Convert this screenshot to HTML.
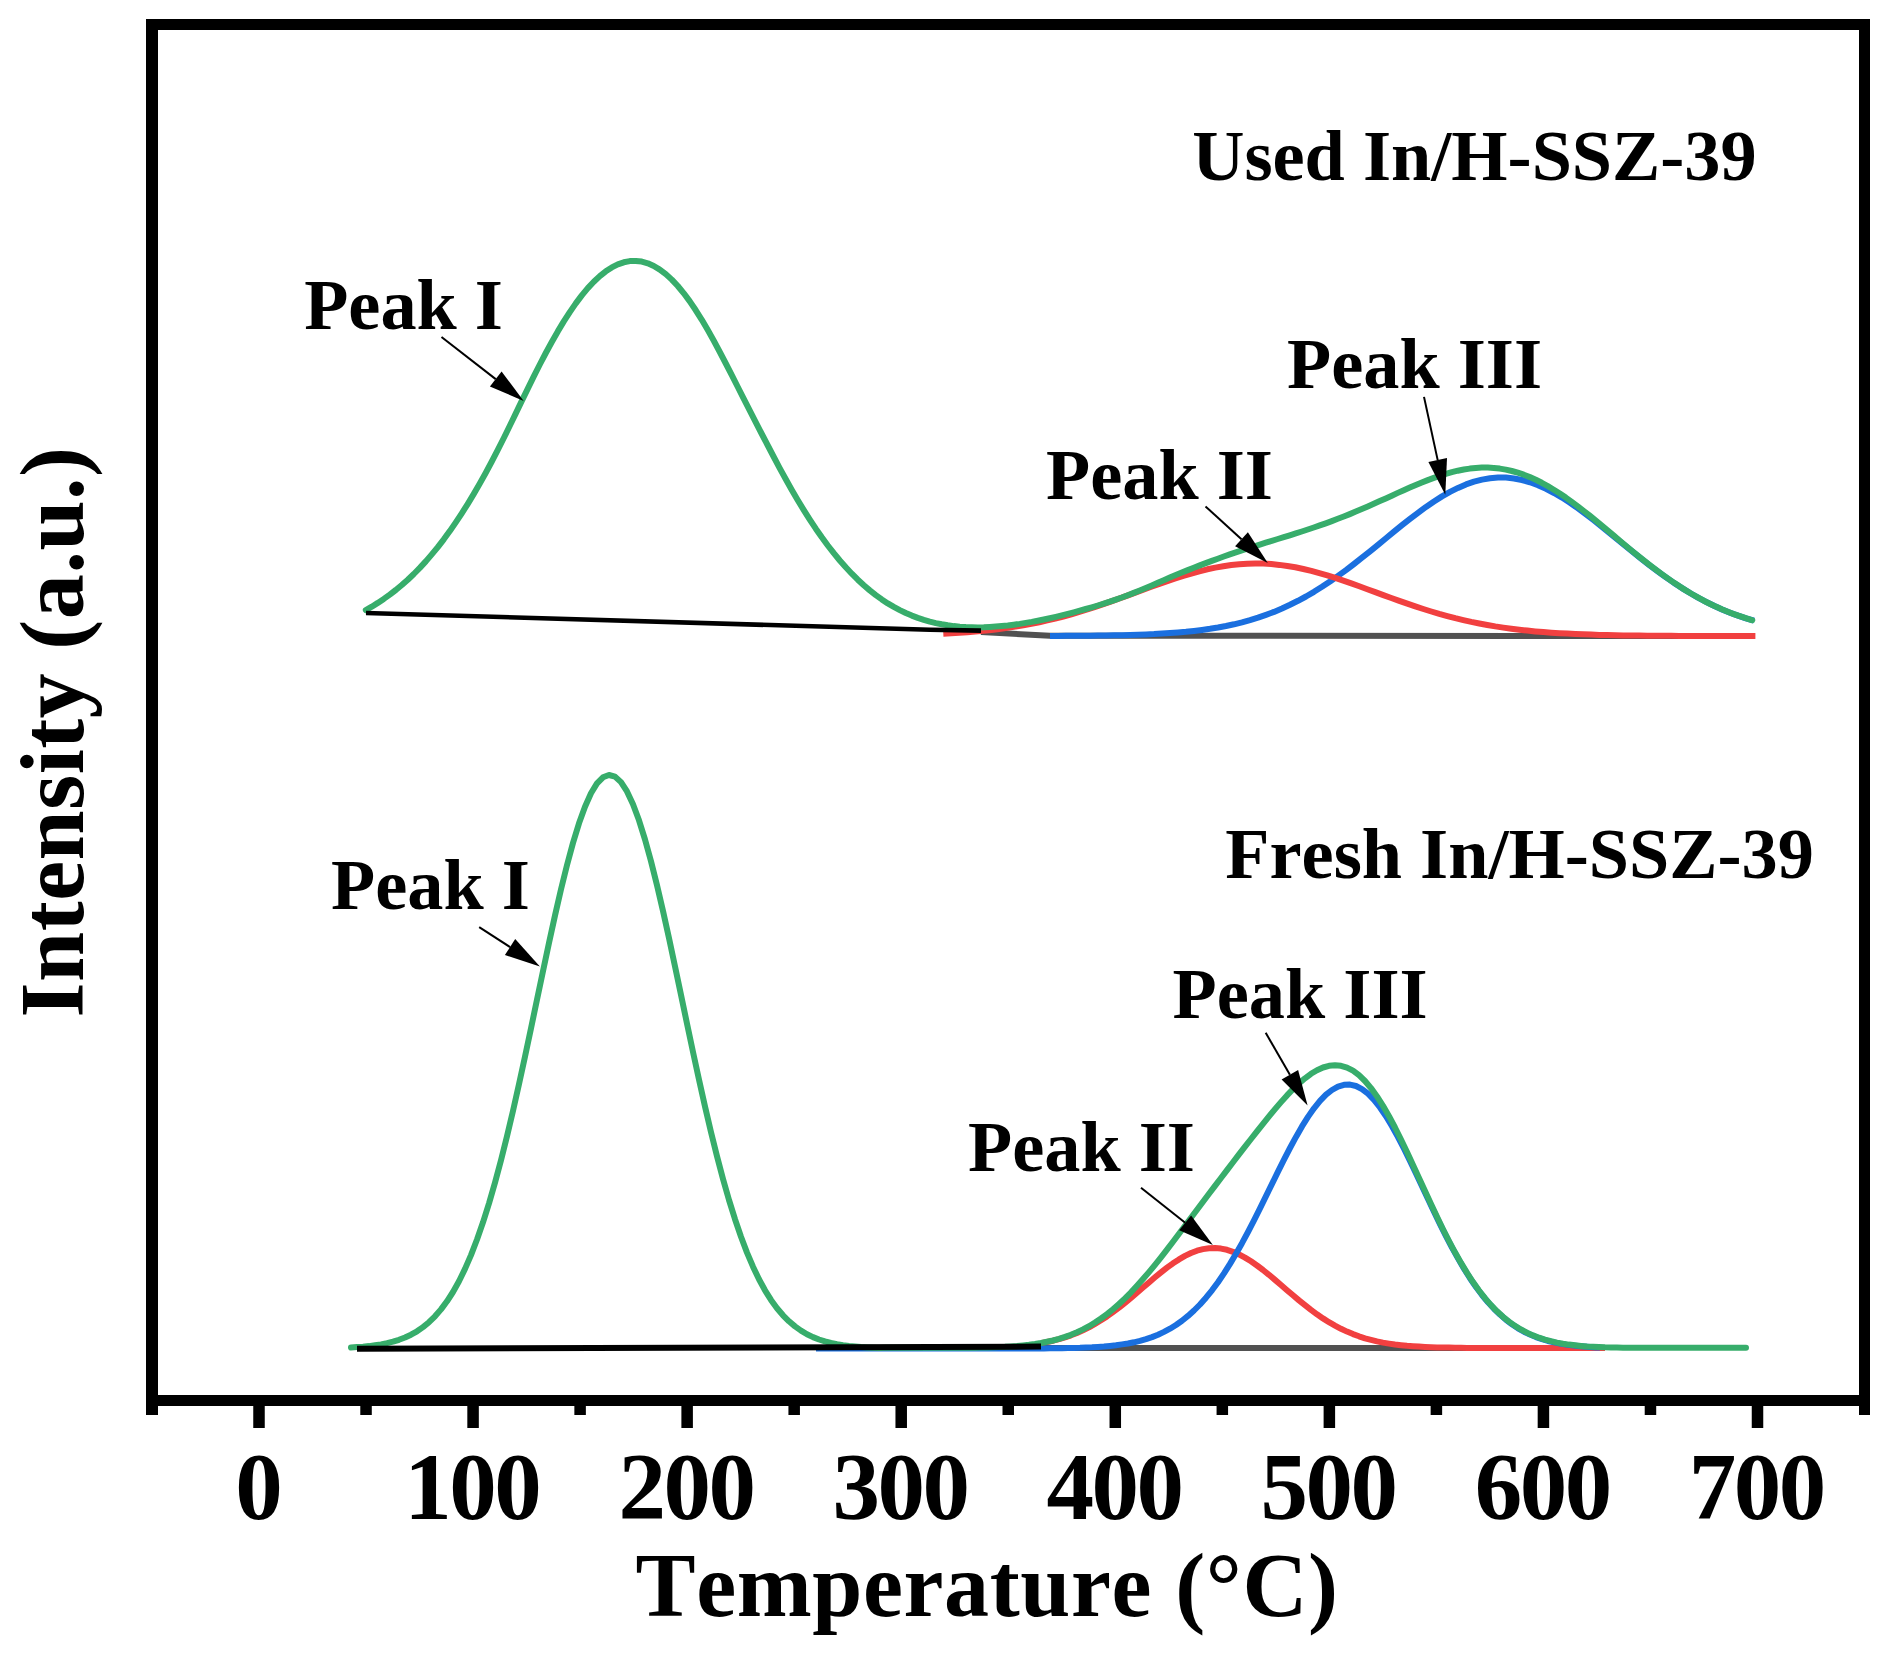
<!DOCTYPE html>
<html><head><meta charset="utf-8"><title>NH3-TPD</title>
<style>html,body{margin:0;padding:0;background:#fff}svg{display:block}text{font-kerning:none;font-variant-ligatures:none;font-family:"Liberation Serif",serif;font-weight:bold;fill:#000}</style>
</head><body>
<svg width="1889" height="1661" viewBox="0 0 1889 1661">
<rect width="1889" height="1661" fill="#fff"/>
<g fill="none" stroke-linejoin="round" stroke-width="6">
<path d="M981,632 L1050,635.8 L1755,636" stroke="#515151"/>
<path d="M1050.0,635.9L1058.0,635.9L1066.0,635.8L1074.0,635.8L1082.0,635.7L1090.0,635.7L1098.0,635.6L1106.0,635.5L1114.0,635.3L1122.0,635.2L1130.0,635.0L1138.0,634.7L1146.0,634.4L1154.0,634.1L1162.0,633.6L1170.0,633.1L1178.0,632.5L1186.0,631.8L1194.0,630.9L1202.0,629.9L1210.0,628.8L1218.0,627.5L1226.0,626.0L1234.0,624.3L1242.0,622.3L1250.0,620.1L1258.0,617.7L1266.0,614.9L1274.0,611.9L1282.0,608.5L1290.0,604.8L1298.0,600.8L1306.0,596.5L1314.0,591.8L1322.0,586.8L1330.0,581.5L1338.0,575.9L1346.0,570.1L1354.0,564.0L1362.0,557.7L1370.0,551.3L1378.0,544.8L1386.0,538.2L1394.0,531.7L1402.0,525.2L1410.0,518.9L1418.0,512.8L1426.0,506.9L1434.0,501.5L1442.0,496.4L1450.0,491.9L1458.0,487.9L1466.0,484.4L1474.0,481.7L1482.0,479.6L1490.0,478.2L1498.0,477.6L1506.0,477.6L1514.0,478.5L1522.0,480.0L1530.0,482.3L1538.0,485.2L1546.0,488.8L1554.0,493.0L1562.0,497.6L1570.0,502.8L1578.0,508.4L1586.0,514.3L1594.0,520.4L1602.0,526.8L1610.0,533.3L1618.0,539.9L1626.0,546.4L1634.0,552.9L1642.0,559.3L1650.0,565.6L1658.0,571.6L1666.0,577.4L1674.0,582.9L1682.0,588.1L1690.0,593.0L1698.0,597.6L1706.0,601.8L1714.0,605.8L1722.0,609.4L1730.0,612.7L1738.0,615.6L1746.0,618.3L1754.0,620.7" stroke="#1A6FDF"/>
<path d="M943.3,633.7L951.3,633.3L959.3,632.8L967.3,632.2L975.3,631.5L983.3,630.8L991.3,629.9L999.3,628.9L1007.3,627.8L1015.3,626.6L1023.3,625.3L1031.3,623.8L1039.3,622.2L1047.3,620.4L1055.3,618.5L1063.3,616.5L1071.3,614.3L1079.3,611.9L1087.3,609.5L1095.3,606.9L1103.3,604.2L1111.3,601.4L1119.3,598.5L1127.3,595.6L1135.3,592.7L1143.3,589.7L1151.3,586.8L1159.3,583.9L1167.3,581.1L1175.3,578.4L1183.3,575.8L1191.3,573.5L1199.3,571.3L1207.3,569.3L1215.3,567.6L1223.3,566.2L1231.3,565.0L1239.3,564.2L1247.3,563.7L1255.3,563.5L1263.3,563.6L1271.3,564.1L1279.3,564.9L1287.3,566.0L1295.3,567.3L1303.3,569.0L1311.3,570.9L1319.3,573.1L1327.3,575.4L1335.3,577.9L1343.3,580.6L1351.3,583.4L1359.3,586.3L1367.3,589.2L1375.3,592.1L1383.3,595.1L1391.3,598.0L1399.3,600.9L1407.3,603.7L1415.3,606.4L1423.3,609.0L1431.3,611.5L1439.3,613.9L1447.3,616.1L1455.3,618.2L1463.3,620.1L1471.3,621.9L1479.3,623.5L1487.3,625.0L1495.3,626.4L1503.3,627.6L1511.3,628.7L1519.3,629.7L1527.3,630.6L1535.3,631.4L1543.3,632.1L1551.3,632.7L1559.3,633.2L1567.3,633.6L1575.3,634.0L1583.3,634.3L1591.3,634.6L1599.3,634.9L1607.3,635.1L1615.3,635.2L1623.3,635.4L1631.3,635.5L1639.3,635.6L1647.3,635.7L1655.3,635.7L1663.3,635.8L1671.3,635.8L1679.3,635.9L1687.3,635.9L1695.3,635.9L1703.3,635.9L1711.3,636.0L1719.3,636.0L1727.3,636.0L1735.3,636.0L1743.3,636.0L1751.3,636.0L1755.4,636.0" stroke="#F14040"/>
<path d="M365.8,610.1L371.8,606.7L377.8,602.9L383.8,598.9L389.8,594.6L395.8,590.0L401.8,585.0L407.8,579.7L413.8,574.0L419.8,567.9L425.8,561.4L431.8,554.4L437.8,547.1L443.8,539.3L449.8,531.1L455.8,522.4L461.8,513.3L467.8,503.8L473.8,493.9L479.8,483.5L485.8,472.7L491.8,461.5L497.8,449.9L503.8,438.0L509.8,425.8L515.8,413.4L521.8,400.9L527.8,388.6L533.8,376.4L539.8,364.5L545.8,353.0L551.8,342.0L557.8,331.4L563.8,321.4L569.8,312.1L575.8,303.4L581.8,295.4L587.8,288.1L593.8,281.7L599.8,276.1L605.8,271.3L611.8,267.4L617.8,264.4L623.8,262.3L629.8,261.1L635.8,260.9L641.8,261.6L647.8,263.3L653.8,266.0L659.8,269.6L665.8,274.1L671.8,279.6L677.8,286.0L683.8,293.3L689.8,301.4L695.8,310.3L701.8,319.8L707.8,330.1L713.8,340.8L719.8,352.0L725.8,363.5L731.8,375.2L737.8,387.0L743.8,398.8L749.8,410.6L755.8,422.4L761.8,434.0L767.8,445.5L773.8,457.0L779.8,468.3L785.8,479.3L791.8,490.0L797.8,500.3L803.8,510.1L809.8,519.6L815.8,528.7L821.8,537.3L827.8,545.5L833.8,553.2L839.8,560.5L845.8,567.3L851.8,573.7L857.8,579.7L863.8,585.3L869.8,590.4L875.8,595.1L881.8,599.4L887.8,603.4L893.8,606.9L899.8,610.1L905.8,613.0L911.8,615.6L917.8,617.9L923.8,619.9L929.8,621.6L935.8,623.1L941.8,624.3L947.8,625.3L953.8,626.1L959.8,626.7L965.8,627.1L971.8,627.3L977.8,627.4L983.8,627.3L989.8,627.0L995.8,626.6L1001.8,626.1L1007.8,625.5L1013.8,624.7L1019.8,623.9L1025.8,622.9L1031.8,621.9L1037.8,620.7L1043.8,619.5L1049.8,618.2L1055.8,616.8L1061.8,615.4L1067.8,613.9L1073.8,612.3L1079.8,610.7L1085.8,609.0L1091.8,607.3L1097.8,605.5L1103.8,603.6L1109.8,601.7L1115.8,599.6L1121.8,597.5L1127.8,595.2L1133.8,592.9L1139.8,590.5L1145.8,588.0L1151.8,585.4L1157.8,582.8L1163.8,580.2L1169.8,577.6L1175.8,575.0L1181.8,572.5L1187.8,570.1L1193.8,567.7L1199.8,565.4L1205.8,563.1L1211.8,560.9L1217.8,558.7L1223.8,556.5L1229.8,554.4L1235.8,552.4L1241.8,550.4L1247.8,548.4L1253.8,546.5L1259.8,544.6L1265.8,542.7L1271.8,540.9L1277.8,539.0L1283.8,537.2L1289.8,535.3L1295.8,533.4L1301.8,531.5L1307.8,529.5L1313.8,527.5L1319.8,525.4L1325.8,523.3L1331.8,521.1L1337.8,518.8L1343.8,516.5L1349.8,514.1L1355.8,511.6L1361.8,509.1L1367.8,506.5L1373.8,503.8L1379.8,501.1L1385.8,498.4L1391.8,495.7L1397.8,492.9L1403.8,490.2L1409.8,487.6L1415.8,485.0L1421.8,482.5L1427.8,480.1L1433.8,477.9L1439.8,475.8L1445.8,473.9L1451.8,472.2L1457.8,470.7L1463.8,469.5L1469.8,468.6L1475.8,468.0L1481.8,467.6L1487.8,467.6L1493.8,468.0L1499.8,468.6L1505.8,469.6L1511.8,471.0L1517.8,472.7L1523.8,474.7L1529.8,477.1L1535.8,479.8L1541.8,482.8L1547.8,486.1L1553.8,489.7L1559.8,493.5L1565.8,497.6L1571.8,501.9L1577.8,506.3L1583.8,511.0L1589.8,515.7L1595.8,520.6L1601.8,525.6L1607.8,530.6L1613.8,535.6L1619.8,540.7L1625.8,545.7L1631.8,550.7L1637.8,555.6L1643.8,560.4L1649.8,565.1L1655.8,569.7L1661.8,574.1L1667.8,578.4L1673.8,582.6L1679.8,586.6L1685.8,590.4L1691.8,594.0L1697.8,597.4L1703.8,600.7L1709.8,603.7L1715.8,606.6L1721.8,609.3L1727.8,611.8L1733.8,614.1L1739.8,616.2L1745.8,618.2L1751.8,620.1L1752.3,620.2" stroke="#37AD6B" stroke-linecap="round"/>
<path d="M366,613 L930,629.8 L981,630.6" stroke="#000" stroke-width="4.6"/>
<path d="M1041,1348 L1598,1348" stroke="#515151"/>
<path d="M1041.0,1343.1L1047.0,1342.0L1053.0,1340.7L1059.0,1339.1L1065.0,1337.3L1071.0,1335.3L1077.0,1332.9L1083.0,1330.2L1089.0,1327.3L1095.0,1323.9L1101.0,1320.3L1107.0,1316.4L1113.0,1312.1L1119.0,1307.6L1125.0,1302.8L1131.0,1297.9L1137.0,1292.8L1143.0,1287.6L1149.0,1282.4L1155.0,1277.3L1161.0,1272.4L1167.0,1267.7L1173.0,1263.3L1179.0,1259.4L1185.0,1255.9L1191.0,1253.0L1197.0,1250.7L1203.0,1249.1L1209.0,1248.2L1215.0,1248.0L1221.0,1248.6L1227.0,1249.8L1233.0,1251.8L1239.0,1254.4L1245.0,1257.6L1251.0,1261.3L1257.0,1265.5L1263.0,1270.0L1269.0,1274.8L1275.0,1279.9L1281.0,1285.0L1287.0,1290.2L1293.0,1295.3L1299.0,1300.4L1305.0,1305.2L1311.0,1309.9L1317.0,1314.3L1323.0,1318.4L1329.0,1322.2L1335.0,1325.6L1341.0,1328.8L1347.0,1331.6L1353.0,1334.1L1359.0,1336.3L1365.0,1338.3L1371.0,1339.9L1377.0,1341.4L1383.0,1342.6L1389.0,1343.6L1395.0,1344.5L1401.0,1345.2L1407.0,1345.8L1413.0,1346.2L1419.0,1346.6L1425.0,1346.9L1431.0,1347.2L1437.0,1347.4L1443.0,1347.5L1449.0,1347.6L1455.0,1347.7L1461.0,1347.8L1467.0,1347.9L1473.0,1347.9L1479.0,1347.9L1485.0,1347.9L1491.0,1348.0L1497.0,1348.0L1503.0,1348.0L1509.0,1348.0L1515.0,1348.0L1521.0,1348.0L1527.0,1348.0L1533.0,1348.0L1539.0,1348.0L1545.0,1348.0L1551.0,1348.0L1557.0,1348.0L1563.0,1348.0L1569.0,1348.0L1575.0,1348.0L1581.0,1348.0L1587.0,1348.0L1593.0,1348.0L1599.0,1348.0L1605.0,1348.0" stroke="#F14040"/>
<path d="M816.0,1348.5L822.0,1348.5L828.0,1348.5L834.0,1348.5L840.0,1348.5L846.0,1348.5L852.0,1348.5L858.0,1348.5L864.0,1348.5L870.0,1348.5L876.0,1348.5L882.0,1348.5L888.0,1348.5L894.0,1348.5L900.0,1348.5L906.0,1348.5L912.0,1348.5L918.0,1348.5L924.0,1348.5L930.0,1348.5L936.0,1348.5L942.0,1348.5L948.0,1348.5L954.0,1348.5L960.0,1348.5L966.0,1348.5L972.0,1348.5L978.0,1348.5L984.0,1348.5L990.0,1348.5L996.0,1348.5L1002.0,1348.5L1008.0,1348.5L1014.0,1348.5L1020.0,1348.5L1026.0,1348.4L1032.0,1348.4L1038.0,1348.4L1044.0,1348.4L1050.0,1348.3L1056.0,1348.3L1062.0,1348.2L1068.0,1348.1L1074.0,1347.9L1080.0,1347.8L1086.0,1347.5L1092.0,1347.3L1098.0,1346.9L1104.0,1346.5L1110.0,1345.9L1116.0,1345.3L1122.0,1344.4L1128.0,1343.5L1134.0,1342.3L1140.0,1340.8L1146.0,1339.1L1152.0,1337.1L1158.0,1334.7L1164.0,1331.9L1170.0,1328.7L1176.0,1325.0L1182.0,1320.8L1188.0,1315.9L1194.0,1310.5L1200.0,1304.5L1206.0,1297.7L1212.0,1290.3L1218.0,1282.2L1224.0,1273.4L1230.0,1263.9L1236.0,1253.8L1242.0,1243.2L1248.0,1232.0L1254.0,1220.3L1260.0,1208.3L1266.0,1196.2L1272.0,1183.9L1278.0,1171.6L1284.0,1159.6L1290.0,1148.0L1296.0,1136.9L1302.0,1126.4L1308.0,1116.9L1314.0,1108.3L1320.0,1100.9L1326.0,1094.7L1332.0,1090.0L1338.0,1086.6L1344.0,1084.8L1350.0,1084.6L1356.0,1086.0L1362.0,1089.1L1368.0,1093.7L1374.0,1099.9L1380.0,1107.5L1386.0,1116.3L1392.0,1126.2L1398.0,1137.1L1404.0,1148.7L1410.0,1160.9L1416.0,1173.5L1422.0,1186.2L1428.0,1199.0L1434.0,1211.7L1440.0,1224.1L1446.0,1236.1L1452.0,1247.6L1458.0,1258.4L1464.0,1268.7L1470.0,1278.2L1476.0,1287.0L1482.0,1295.0L1488.0,1302.3L1494.0,1308.8L1500.0,1314.6L1506.0,1319.8L1512.0,1324.3L1518.0,1328.3L1524.0,1331.7L1530.0,1334.6L1536.0,1337.1L1542.0,1339.2L1548.0,1341.0L1554.0,1342.4L1560.0,1343.6L1566.0,1344.6L1572.0,1345.4L1578.0,1346.1L1584.0,1346.6L1590.0,1347.1L1596.0,1347.4L1600.0,1347.6" stroke="#1A6FDF"/>
<path d="M351.0,1347.5L357.0,1347.1L363.0,1346.7L369.0,1346.1L375.0,1345.3L381.0,1344.4L387.0,1343.2L393.0,1341.7L399.0,1339.8L405.0,1337.5L411.0,1334.7L417.0,1331.3L423.0,1327.1L429.0,1322.2L435.0,1316.3L441.0,1309.4L447.0,1301.3L453.0,1292.0L459.0,1281.2L465.0,1268.9L471.0,1255.1L477.0,1239.5L483.0,1222.3L489.0,1203.3L495.0,1182.6L501.0,1160.2L507.0,1136.2L513.0,1110.9L519.0,1084.2L525.0,1056.6L531.0,1028.3L537.0,999.7L543.0,971.1L549.0,942.9L555.0,915.5L561.0,889.4L567.0,865.1L573.0,842.9L579.0,823.3L585.0,806.7L591.0,793.3L597.0,783.4L603.0,777.3L609.0,775.0L615.0,776.6L621.0,782.1L627.0,791.4L633.0,804.2L639.0,820.3L645.0,839.5L651.0,861.2L657.0,885.2L663.0,911.0L669.0,938.2L675.0,966.3L681.0,994.9L687.0,1023.6L693.0,1052.0L699.0,1079.7L705.0,1106.5L711.0,1132.1L717.0,1156.3L723.0,1179.0L729.0,1200.0L735.0,1219.2L741.0,1236.8L747.0,1252.6L753.0,1266.7L759.0,1279.3L765.0,1290.3L771.0,1299.9L777.0,1308.2L783.0,1315.3L789.0,1321.3L795.0,1326.4L801.0,1330.6L807.0,1334.2L813.0,1337.1L819.0,1339.5L825.0,1341.4L831.0,1343.0L837.0,1344.2L843.0,1345.2L849.0,1346.0L855.0,1346.6L861.0,1347.1L867.0,1347.4L873.0,1347.7L879.0,1347.9L885.0,1347.7L891.0,1347.7L897.0,1347.7L903.0,1347.7L909.0,1347.7L915.0,1347.7L921.0,1347.7L927.0,1347.7L933.0,1347.7L939.0,1347.7L945.0,1347.7L951.0,1347.7L957.0,1347.7L963.0,1347.7L969.0,1347.7L975.0,1347.7L981.0,1347.6L987.0,1347.4L993.0,1347.3L999.0,1347.0L1005.0,1346.8L1011.0,1346.4L1017.0,1346.0L1023.0,1345.4L1029.0,1344.8L1035.0,1344.0L1041.0,1343.0L1047.0,1341.8L1053.0,1340.5L1059.0,1338.8L1065.0,1336.9L1071.0,1334.8L1077.0,1332.2L1083.0,1329.4L1089.0,1326.2L1095.0,1322.5L1101.0,1318.5L1107.0,1314.1L1113.0,1309.2L1119.0,1304.0L1125.0,1298.3L1131.0,1292.3L1137.0,1285.8L1143.0,1279.1L1149.0,1272.1L1155.0,1264.8L1161.0,1257.3L1167.0,1249.6L1173.0,1241.7L1179.0,1233.8L1185.0,1225.8L1191.0,1217.8L1197.0,1209.8L1203.0,1201.8L1209.0,1193.8L1215.0,1185.9L1221.0,1178.0L1227.0,1170.1L1233.0,1162.2L1239.0,1154.4L1245.0,1146.7L1251.0,1139.0L1257.0,1131.3L1263.0,1123.8L1269.0,1116.4L1275.0,1109.1L1281.0,1102.1L1287.0,1095.4L1293.0,1089.2L1299.0,1083.4L1305.0,1078.3L1311.0,1073.8L1317.0,1070.2L1323.0,1067.5L1329.0,1065.8L1335.0,1065.3L1341.0,1065.8L1347.0,1067.6L1353.0,1070.7L1359.0,1075.2L1365.0,1081.0L1371.0,1088.1L1377.0,1096.4L1383.0,1105.8L1389.0,1116.2L1395.0,1127.5L1401.0,1139.5L1407.0,1152.0L1413.0,1164.9L1419.0,1178.0L1425.0,1191.1L1431.0,1204.1L1437.0,1216.8L1443.0,1229.2L1449.0,1241.0L1455.0,1252.3L1461.0,1262.9L1467.0,1272.9L1473.0,1282.1L1479.0,1290.5L1485.0,1298.2L1491.0,1305.1L1497.0,1311.3L1503.0,1316.8L1509.0,1321.6L1515.0,1325.9L1521.0,1329.5L1527.0,1332.7L1533.0,1335.4L1539.0,1337.7L1545.0,1339.6L1551.0,1341.2L1557.0,1342.6L1563.0,1343.7L1569.0,1344.6L1575.0,1345.3L1581.0,1345.9L1587.0,1346.4L1593.0,1346.7L1599.0,1347.0L1605.0,1347.3L1611.0,1347.4L1617.0,1347.6L1623.0,1347.7L1629.0,1347.7L1635.0,1347.7L1641.0,1347.7L1647.0,1347.7L1653.0,1347.7L1659.0,1347.7L1665.0,1347.7L1671.0,1347.7L1677.0,1347.7L1683.0,1347.7L1689.0,1347.7L1695.0,1347.7L1701.0,1347.7L1707.0,1347.7L1713.0,1347.7L1719.0,1347.7L1725.0,1347.7L1731.0,1347.7L1737.0,1347.7L1743.0,1347.7L1746.0,1347.7" stroke="#37AD6B" stroke-linecap="round"/>
<path d="M357,1348.8 L1041,1346.6" stroke="#000"/>
</g>
<g fill="#000">
<rect x="146" y="19" width="12" height="1396"/>
<rect x="1859" y="19" width="11" height="1396"/>
<rect x="146" y="19" width="1724" height="11"/>
<rect x="146" y="1395" width="1724" height="11"/>
<rect x="253.25" y="1400" width="11.5" height="28"/>
<rect x="467.32" y="1400" width="11.5" height="28"/>
<rect x="681.39" y="1400" width="11.5" height="28"/>
<rect x="895.46" y="1400" width="11.5" height="28"/>
<rect x="1109.54" y="1400" width="11.5" height="28"/>
<rect x="1323.61" y="1400" width="11.5" height="28"/>
<rect x="1537.68" y="1400" width="11.5" height="28"/>
<rect x="1751.75" y="1400" width="11.5" height="28"/>
<rect x="360.29" y="1400" width="11.5" height="15"/>
<rect x="574.36" y="1400" width="11.5" height="15"/>
<rect x="788.43" y="1400" width="11.5" height="15"/>
<rect x="1002.50" y="1400" width="11.5" height="15"/>
<rect x="1216.57" y="1400" width="11.5" height="15"/>
<rect x="1430.64" y="1400" width="11.5" height="15"/>
<rect x="1644.71" y="1400" width="11.5" height="15"/>
</g>
<g font-size="95" text-anchor="middle" letter-spacing="-2.5">
<text x="257.8" y="1518.6">0</text>
<text x="471.8" y="1518.6">100</text>
<text x="685.9" y="1518.6">200</text>
<text x="900.0" y="1518.6">300</text>
<text x="1114.0" y="1518.6">400</text>
<text x="1328.1" y="1518.6">500</text>
<text x="1542.2" y="1518.6">600</text>
<text x="1756.2" y="1518.6">700</text>
</g>
<text x="635.5" y="1615.5" font-size="90" letter-spacing="0.62">Temperature (°C)</text>
<text transform="translate(83,1017.5) rotate(-90)" font-size="90" letter-spacing="0.53">Intensity (a.u.)</text>
<g font-size="72.3">
<text x="1192.2" y="180">Used In/H-SSZ-39</text>
<text x="1225.3" y="877.5">Fresh In/H-SSZ-39</text>
<text x="304.2" y="329.4">Peak I</text>
<text x="1046" y="498.8">Peak II</text>
<text x="1287" y="387.8">Peak III</text>
<text x="331" y="908.6">Peak I</text>
<text x="968" y="1171.3">Peak II</text>
<text x="1172.6" y="1017.9">Peak III</text>
</g>
<line x1="441.5" y1="337.0" x2="495.7" y2="379.1" stroke="#000" stroke-width="2"/><polygon points="523.7,400.9 489.9,386.6 501.6,371.6" fill="#000"/>
<line x1="1205.5" y1="506.4" x2="1241.5" y2="539.2" stroke="#000" stroke-width="2"/><polygon points="1267.8,563.1 1235.1,546.2 1247.9,532.2" fill="#000"/>
<line x1="1424.0" y1="396.9" x2="1437.7" y2="460.1" stroke="#000" stroke-width="2"/><polygon points="1445.3,494.8 1428.4,462.1 1447.0,458.1" fill="#000"/>
<line x1="479.2" y1="927.2" x2="510.1" y2="947.1" stroke="#000" stroke-width="2"/><polygon points="539.9,966.4 504.9,955.1 515.2,939.1" fill="#000"/>
<line x1="1141.0" y1="1187.7" x2="1185.2" y2="1222.8" stroke="#000" stroke-width="2"/><polygon points="1212.9,1244.9 1179.2,1230.3 1191.1,1215.4" fill="#000"/>
<line x1="1265.7" y1="1032.8" x2="1289.9" y2="1074.7" stroke="#000" stroke-width="2"/><polygon points="1307.6,1105.4 1281.6,1079.4 1298.1,1069.9" fill="#000"/>
</svg>
</body></html>
